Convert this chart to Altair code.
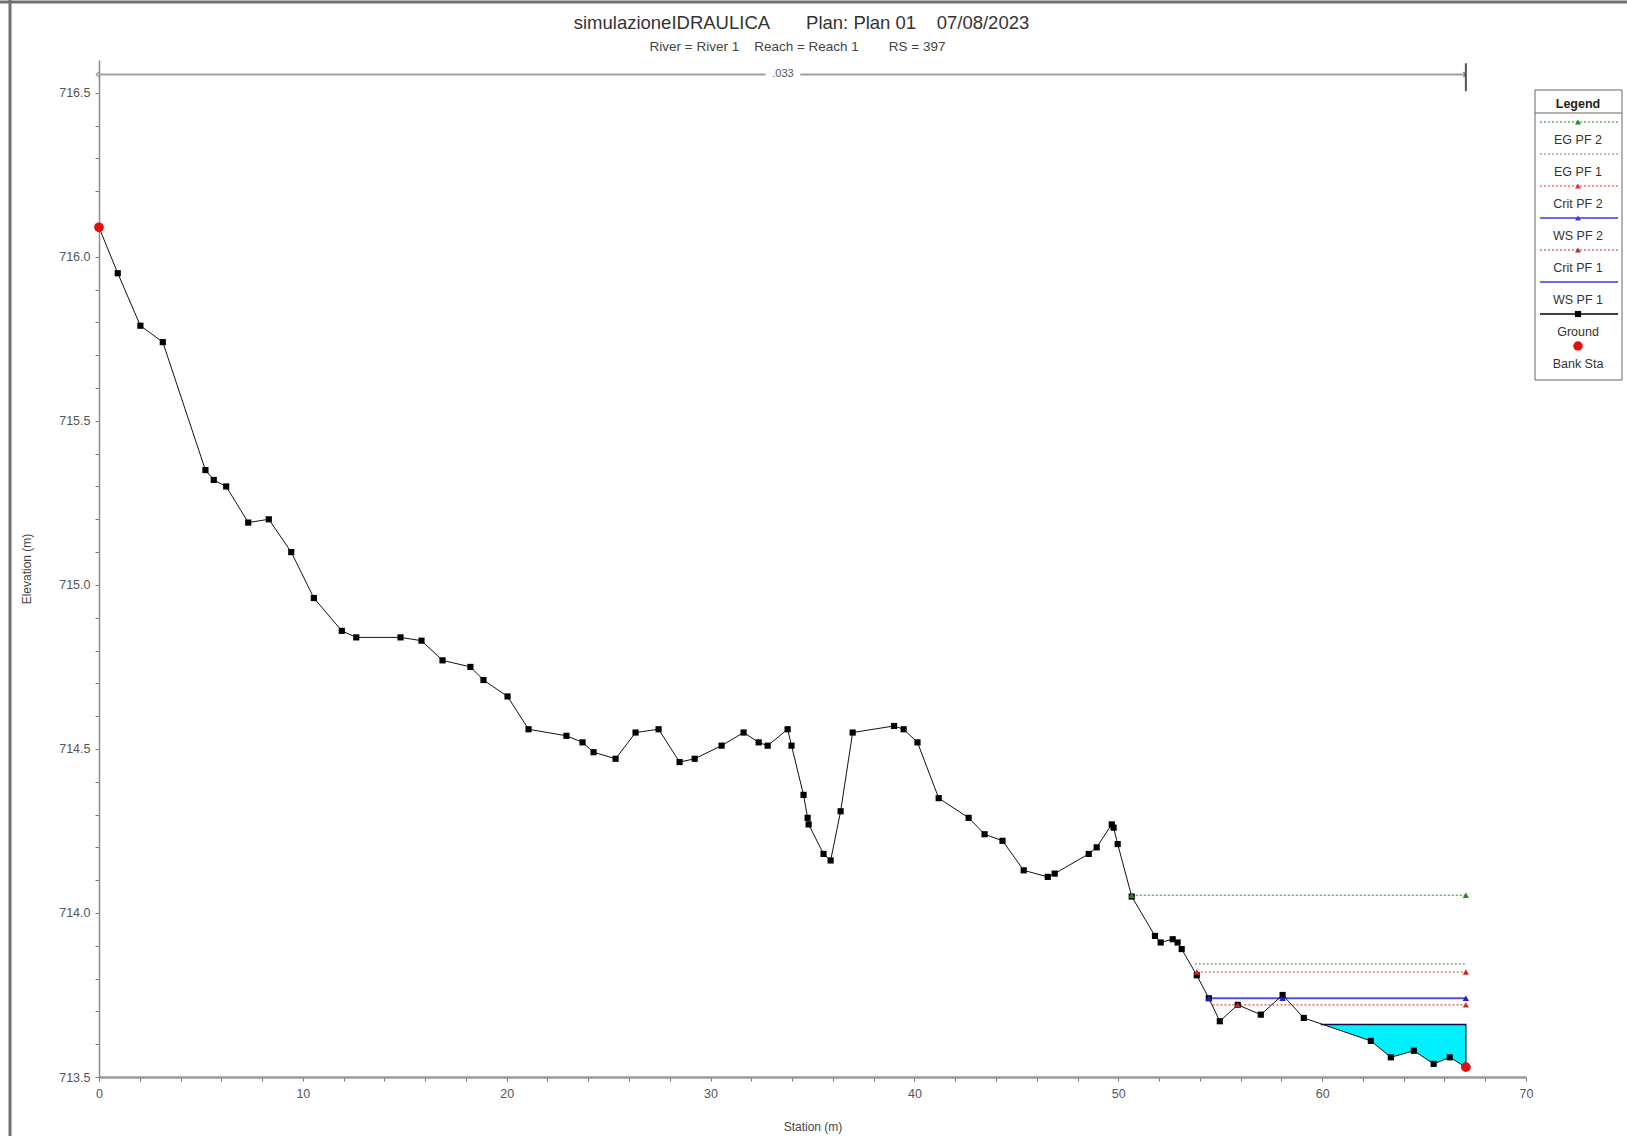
import altair as alt
import numpy as np
import pandas as pd

# ---------------- data ----------------
ground_station = [0.0, 0.92, 2.03, 3.13, 5.22, 5.63, 6.24, 7.32, 8.33, 9.43,
                  10.54, 11.91, 12.62, 14.79, 15.82, 16.85, 18.22, 18.86, 20.04, 21.07,
                  22.93, 23.72, 24.26, 25.34, 26.32, 27.45, 28.48, 29.22, 30.54, 31.62,
                  32.36, 32.80, 33.78, 33.97, 34.56, 34.76, 34.81, 35.54, 35.89, 36.38,
                  36.97, 39.00, 39.47, 40.15, 41.19, 42.66, 43.44, 44.32, 45.36, 46.54,
                  46.88, 48.55, 48.94, 49.68, 49.77, 49.97, 50.66, 51.80, 52.08, 52.67,
                  52.91, 53.11, 53.85, 54.44, 54.98, 55.86, 56.99, 58.06, 59.10, 62.39,
                  63.37, 64.50, 65.47, 66.26, 67.05]
ground_elev = [716.09, 715.95, 715.79, 715.74, 715.35, 715.32, 715.30, 715.19, 715.20, 715.10,
               714.96, 714.86, 714.84, 714.84, 714.83, 714.77, 714.75, 714.71, 714.66, 714.56,
               714.54, 714.52, 714.49, 714.47, 714.55, 714.56, 714.46, 714.47, 714.51, 714.55,
               714.52, 714.51, 714.56, 714.51, 714.36, 714.29, 714.27, 714.18, 714.16, 714.31,
               714.55, 714.57, 714.56, 714.52, 714.35, 714.29, 714.24, 714.22, 714.13, 714.11,
               714.12, 714.18, 714.20, 714.27, 714.26, 714.21, 714.05, 713.93, 713.91, 713.92,
               713.91, 713.89, 713.81, 713.74, 713.67, 713.72, 713.69, 713.75, 713.68, 713.61,
               713.56, 713.58, 713.54, 713.56, 713.53]

bank_station = [0.0, 67.05]
bank_elev = [716.09, 713.53]

ws_pf1_station = [59.93, 62.39, 63.37, 64.50, 65.47, 66.26, 67.05]
ws_pf1_level = 713.66

ws_pf2_station = [54.44, 67.05]
ws_pf2_elev = [713.74, 713.74]
ws_pf2_marker_station = [54.44, 58.06, 67.05]

crit_pf1_station = [54.62, 67.05]
crit_pf1_elev = [713.72, 713.72]
crit_pf1_marker_station = [55.86, 67.05]

crit_pf2_station = [53.85, 67.05]
crit_pf2_elev = [713.82, 713.82]

eg_pf1_station = [53.75, 67.05]
eg_pf1_elev = [713.845, 713.845]

eg_pf2_station = [50.66, 67.05]
eg_pf2_elev = [714.054, 714.054]

n_label = ".033"
n_segments_station = [[0.0, 32.7], [34.4, 67.05]]
n_label_station = 33.55
n_elev = 716.556
n_bar_elev = [716.505, 716.59]

legend_labels = ["EG PF 2", "EG PF 1", "Crit PF 2", "WS PF 2", "Crit PF 1", "WS PF 1", "Ground", "Bank Sta"]
legend_colors = ["#1f8a1f", "#6f8a5a", "#e83030", "#3a3ad8", "#b03030", "#3a3ad8", "#000000", "#e01010"]
legend_line = ["dotted", "dotted", "dotted", "solid", "dotted", "solid", "solid", "none"]
legend_marker = ["triangle-up", "", "triangle-up", "triangle-up", "triangle-up", "", "square", "circle"]
legend_marker_size = [34, 0, 34, 34, 34, 0, 38, 90]

NB = "\u00a0"
title_text = "simulazioneIDRAULICA" + NB * 7 + "Plan: Plan 01" + NB * 4 + "07/08/2023"
subtitle_text = "River = River 1" + NB * 4 + "Reach = Reach 1" + NB * 8 + "RS = 397"

# ---------------- scales / axes ----------------
FONT = "Liberation Sans"
W, H = 1427, 1017
x_scale = alt.Scale(domain=[0, 70], nice=False, zero=False)
y_scale = alt.Scale(domain=[713.5, 716.6], nice=False, zero=False)
x_ticks = list(range(0, 71, 2))
y_ticks = [round(713.5 + 0.1 * i, 1) for i in range(31)]

x_axis = alt.Axis(title="Station (m)", values=x_ticks,
                  labelExpr="datum.value % 10 === 0 ? format(datum.value, 'd') : ''",
                  labelOverlap=False, labelFlush=False, grid=False,
                  domainColor="#9a9a9a", domainWidth=2.5, tickColor="#777", tickSize=4,
                  labelPadding=6, labelFontSize=12.5, labelColor="#555", labelFont=FONT,
                  titleFont=FONT, titleFontSize=12, titleFontWeight="normal", titleColor="#444",
                  titlePadding=22)
y_axis = alt.Axis(title="Elevation (m)", values=y_ticks,
                  labelExpr="abs(datum.value*2 - round(datum.value*2)) < 0.001 ? format(datum.value, '.1f') : ''",
                  labelOverlap=False, labelFlush=False, grid=False,
                  domainColor="#8a8a8a", domainWidth=1.5, tickColor="#777", tickSize=4,
                  labelPadding=5, labelFontSize=12.5, labelColor="#555", labelFont=FONT,
                  titleFont=FONT, titleFontSize=12, titleFontWeight="normal", titleColor="#444",
                  titlePadding=25)


def X(field="station"):
    return alt.X(f"{field}:Q", scale=x_scale, axis=x_axis)


def Y(field="elev"):
    return alt.Y(f"{field}:Q", scale=y_scale, axis=y_axis)


def flat(stations, elev):
    return pd.DataFrame({"station": stations, "elev": elev})


ground_df = flat(ground_station, ground_elev)
bank_df = flat(bank_station, bank_elev)

ws1_df = pd.DataFrame({
    "station": ws_pf1_station,
    "elev": [ws_pf1_level] * len(ws_pf1_station),
    "bed": np.interp(ws_pf1_station, ground_station, ground_elev),
})

layers = []
dummy = pd.DataFrame({"d": [0]})

# outer window frame (left and top edges)
layers.append(alt.Chart(dummy).mark_rule(color="#707070", strokeWidth=3).encode(
    x=alt.value(-89), y=alt.value(-60), y2=alt.value(H + 59)))
layers.append(alt.Chart(dummy).mark_rule(color="#707070", strokeWidth=3).encode(
    x=alt.value(-99), x2=alt.value(W + 101), y=alt.value(-58)))

# title and subtitle
layers.append(alt.Chart(dummy).mark_text(
    text=title_text, font=FONT, fontSize=18.5, color="#333", align="center", baseline="middle").encode(
    x=alt.value(W / 2 - 11), y=alt.value(-37)))
layers.append(alt.Chart(dummy).mark_text(
    text=subtitle_text, font=FONT, fontSize=13.5, color="#444", align="center", baseline="middle").encode(
    x=alt.value(W / 2 - 15), y=alt.value(-13)))

# WS PF 1 filled water
layers.append(alt.Chart(ws1_df).mark_area(color="#00f0ff", opacity=1).encode(
    x=X(), y=Y(), y2=alt.Y2("bed:Q")))
ws1_edge = pd.DataFrame({
    "station": [ws_pf1_station[0], ws_pf1_station[-1], ws_pf1_station[-1]],
    "elev": [ws_pf1_level, ws_pf1_level, bank_elev[-1]],
    "o": [0, 1, 2]})
layers.append(alt.Chart(ws1_edge).mark_line(color="#101040", strokeWidth=1.3).encode(
    x=X(), y=Y(), order="o:Q"))

# EG / Crit / WS PF 2 lines
layers.append(alt.Chart(flat(eg_pf2_station, eg_pf2_elev)).mark_line(
    color="#1f8a1f", strokeDash=[2, 2], strokeWidth=1.2).encode(x=X(), y=Y()))
layers.append(alt.Chart(flat(eg_pf1_station, eg_pf1_elev)).mark_line(
    color="#6f8a5a", strokeDash=[2, 2], strokeWidth=1.2).encode(x=X(), y=Y()))
layers.append(alt.Chart(flat(crit_pf2_station, crit_pf2_elev)).mark_line(
    color="#e83030", strokeDash=[2, 2], strokeWidth=1.2).encode(x=X(), y=Y()))
layers.append(alt.Chart(flat(crit_pf1_station, crit_pf1_elev)).mark_line(
    color="#f04848", strokeDash=[2, 2], strokeWidth=1.2).encode(x=X(), y=Y()))
layers.append(alt.Chart(flat(ws_pf2_station, ws_pf2_elev)).mark_line(
    color="#5050e0", strokeWidth=2).encode(x=X(), y=Y()))

# Manning's n annotation
for seg in n_segments_station:
    layers.append(alt.Chart(flat(seg, [n_elev, n_elev])).mark_line(
        color="#a0a0a0", strokeWidth=2).encode(x=X(), y=Y()))
layers.append(alt.Chart(flat([n_label_station], [n_elev])).mark_text(
    text=n_label, fontSize=11, color="#555", font=FONT, baseline="middle").encode(x=X(), y=Y()))
layers.append(alt.Chart(flat([n_segments_station[-1][-1]] * 2, n_bar_elev)).mark_line(
    color="#555", strokeWidth=2).encode(x=X(), y=Y()))
layers.append(alt.Chart(flat([n_segments_station[0][0]], [n_elev])).mark_point(
    shape="M0,-1L-1,0L0,1", filled=False, color="#777", strokeWidth=1.5, size=25).encode(x=X(), y=Y()))
layers.append(alt.Chart(flat([n_segments_station[-1][-1]], [n_elev])).mark_point(
    shape="M-1,-1L0,0L-1,1", filled=False, color="#555", strokeWidth=1.5, size=25).encode(x=X(), y=Y()))

# Ground
layers.append(alt.Chart(ground_df).mark_line(color="#111", strokeWidth=1).encode(x=X(), y=Y()))
layers.append(alt.Chart(ground_df).mark_point(shape="square", filled=True, color="#000", size=38, opacity=1).encode(
    x=X(), y=Y()))

# markers of water lines
layers.append(alt.Chart(flat(eg_pf2_station, eg_pf2_elev)).mark_point(
    shape="triangle-up", filled=True, color="#1f8a1f", size=38, opacity=1).encode(x=X(), y=Y()))
layers.append(alt.Chart(flat(crit_pf2_station, crit_pf2_elev)).mark_point(
    shape="triangle-up", filled=True, color="#d82020", size=38, opacity=1).encode(x=X(), y=Y()))
layers.append(alt.Chart(flat(crit_pf1_marker_station, [crit_pf1_elev[0]] * len(crit_pf1_marker_station))).mark_point(
    shape="triangle-up", filled=True, color="#c03030", size=38, opacity=1).encode(x=X(), y=Y()))
layers.append(alt.Chart(flat(ws_pf2_marker_station, [ws_pf2_elev[0]] * len(ws_pf2_marker_station))).mark_point(
    shape="triangle-up", filled=True, color="#2020c0", size=40, opacity=1).encode(x=X(), y=Y()))

# Bank stations
layers.append(alt.Chart(bank_df).mark_circle(color="#e01010", size=95, opacity=1).encode(x=X(), y=Y()))

# ---------------- legend (drawn in the right margin) ----------------
LX0, LX1, LXC = W + 9, W + 96, W + 52
leg = pd.DataFrame({
    "label": legend_labels, "color": legend_colors, "line": legend_line,
    "marker": legend_marker, "msize": legend_marker_size,
    "i": list(range(len(legend_labels)))})
leg["sy"] = 62 + 32 * leg["i"]
leg["ty"] = leg["sy"] + 18

layers.append(alt.Chart(dummy).mark_rect(fill="white", stroke="#666", strokeWidth=1).encode(
    x=alt.value(LX0), x2=alt.value(LX1), y=alt.value(30), y2=alt.value(320)))
layers.append(alt.Chart(dummy).mark_text(text="Legend", fontWeight="bold", fontSize=12.5, font=FONT,
                                         color="#222", align="center", baseline="middle").encode(
    x=alt.value(LXC), y=alt.value(44)))
layers.append(alt.Chart(dummy).mark_rule(color="#666", strokeWidth=1).encode(
    x=alt.value(LX0), x2=alt.value(LX1), y=alt.value(53)))
layers.append(alt.Chart(leg).transform_filter("datum.line === 'dotted'").mark_rule(
    strokeDash=[2, 2], strokeWidth=1).encode(
    x=alt.value(LX0 + 5), x2=alt.value(LX1 - 4),
    y=alt.Y("sy:Q", scale=None, axis=None),
    color=alt.Color("color:N", scale=None, legend=None)))
layers.append(alt.Chart(leg).transform_filter("datum.line === 'solid'").mark_rule(
    strokeWidth=1.3).encode(
    x=alt.value(LX0 + 5), x2=alt.value(LX1 - 4),
    y=alt.Y("sy:Q", scale=None, axis=None),
    color=alt.Color("color:N", scale=None, legend=None)))
layers.append(alt.Chart(leg).transform_filter("datum.marker !== ''").mark_point(
    filled=True, opacity=1).encode(
    x=alt.value(LXC),
    y=alt.Y("sy:Q", scale=None, axis=None),
    shape=alt.Shape("marker:N", scale=None, legend=None),
    size=alt.Size("msize:Q", scale=None, legend=None),
    color=alt.Color("color:N", scale=None, legend=None)))
layers.append(alt.Chart(leg).mark_text(fontSize=12.5, font=FONT, color="#333",
                                       align="center", baseline="middle").encode(
    x=alt.value(LXC),
    y=alt.Y("ty:Q", scale=None, axis=None),
    text="label:N"))

chart = alt.layer(*layers).properties(
    width=W, height=H,
    autosize=alt.AutoSizeParams(type="none"),
    padding={"left": 99, "top": 60, "right": 101, "bottom": 59},
).configure(font=FONT, background="white", view=alt.ViewConfig(stroke=None))

chart.save("out.html", embed_options={"renderer": "svg", "actions": False})
